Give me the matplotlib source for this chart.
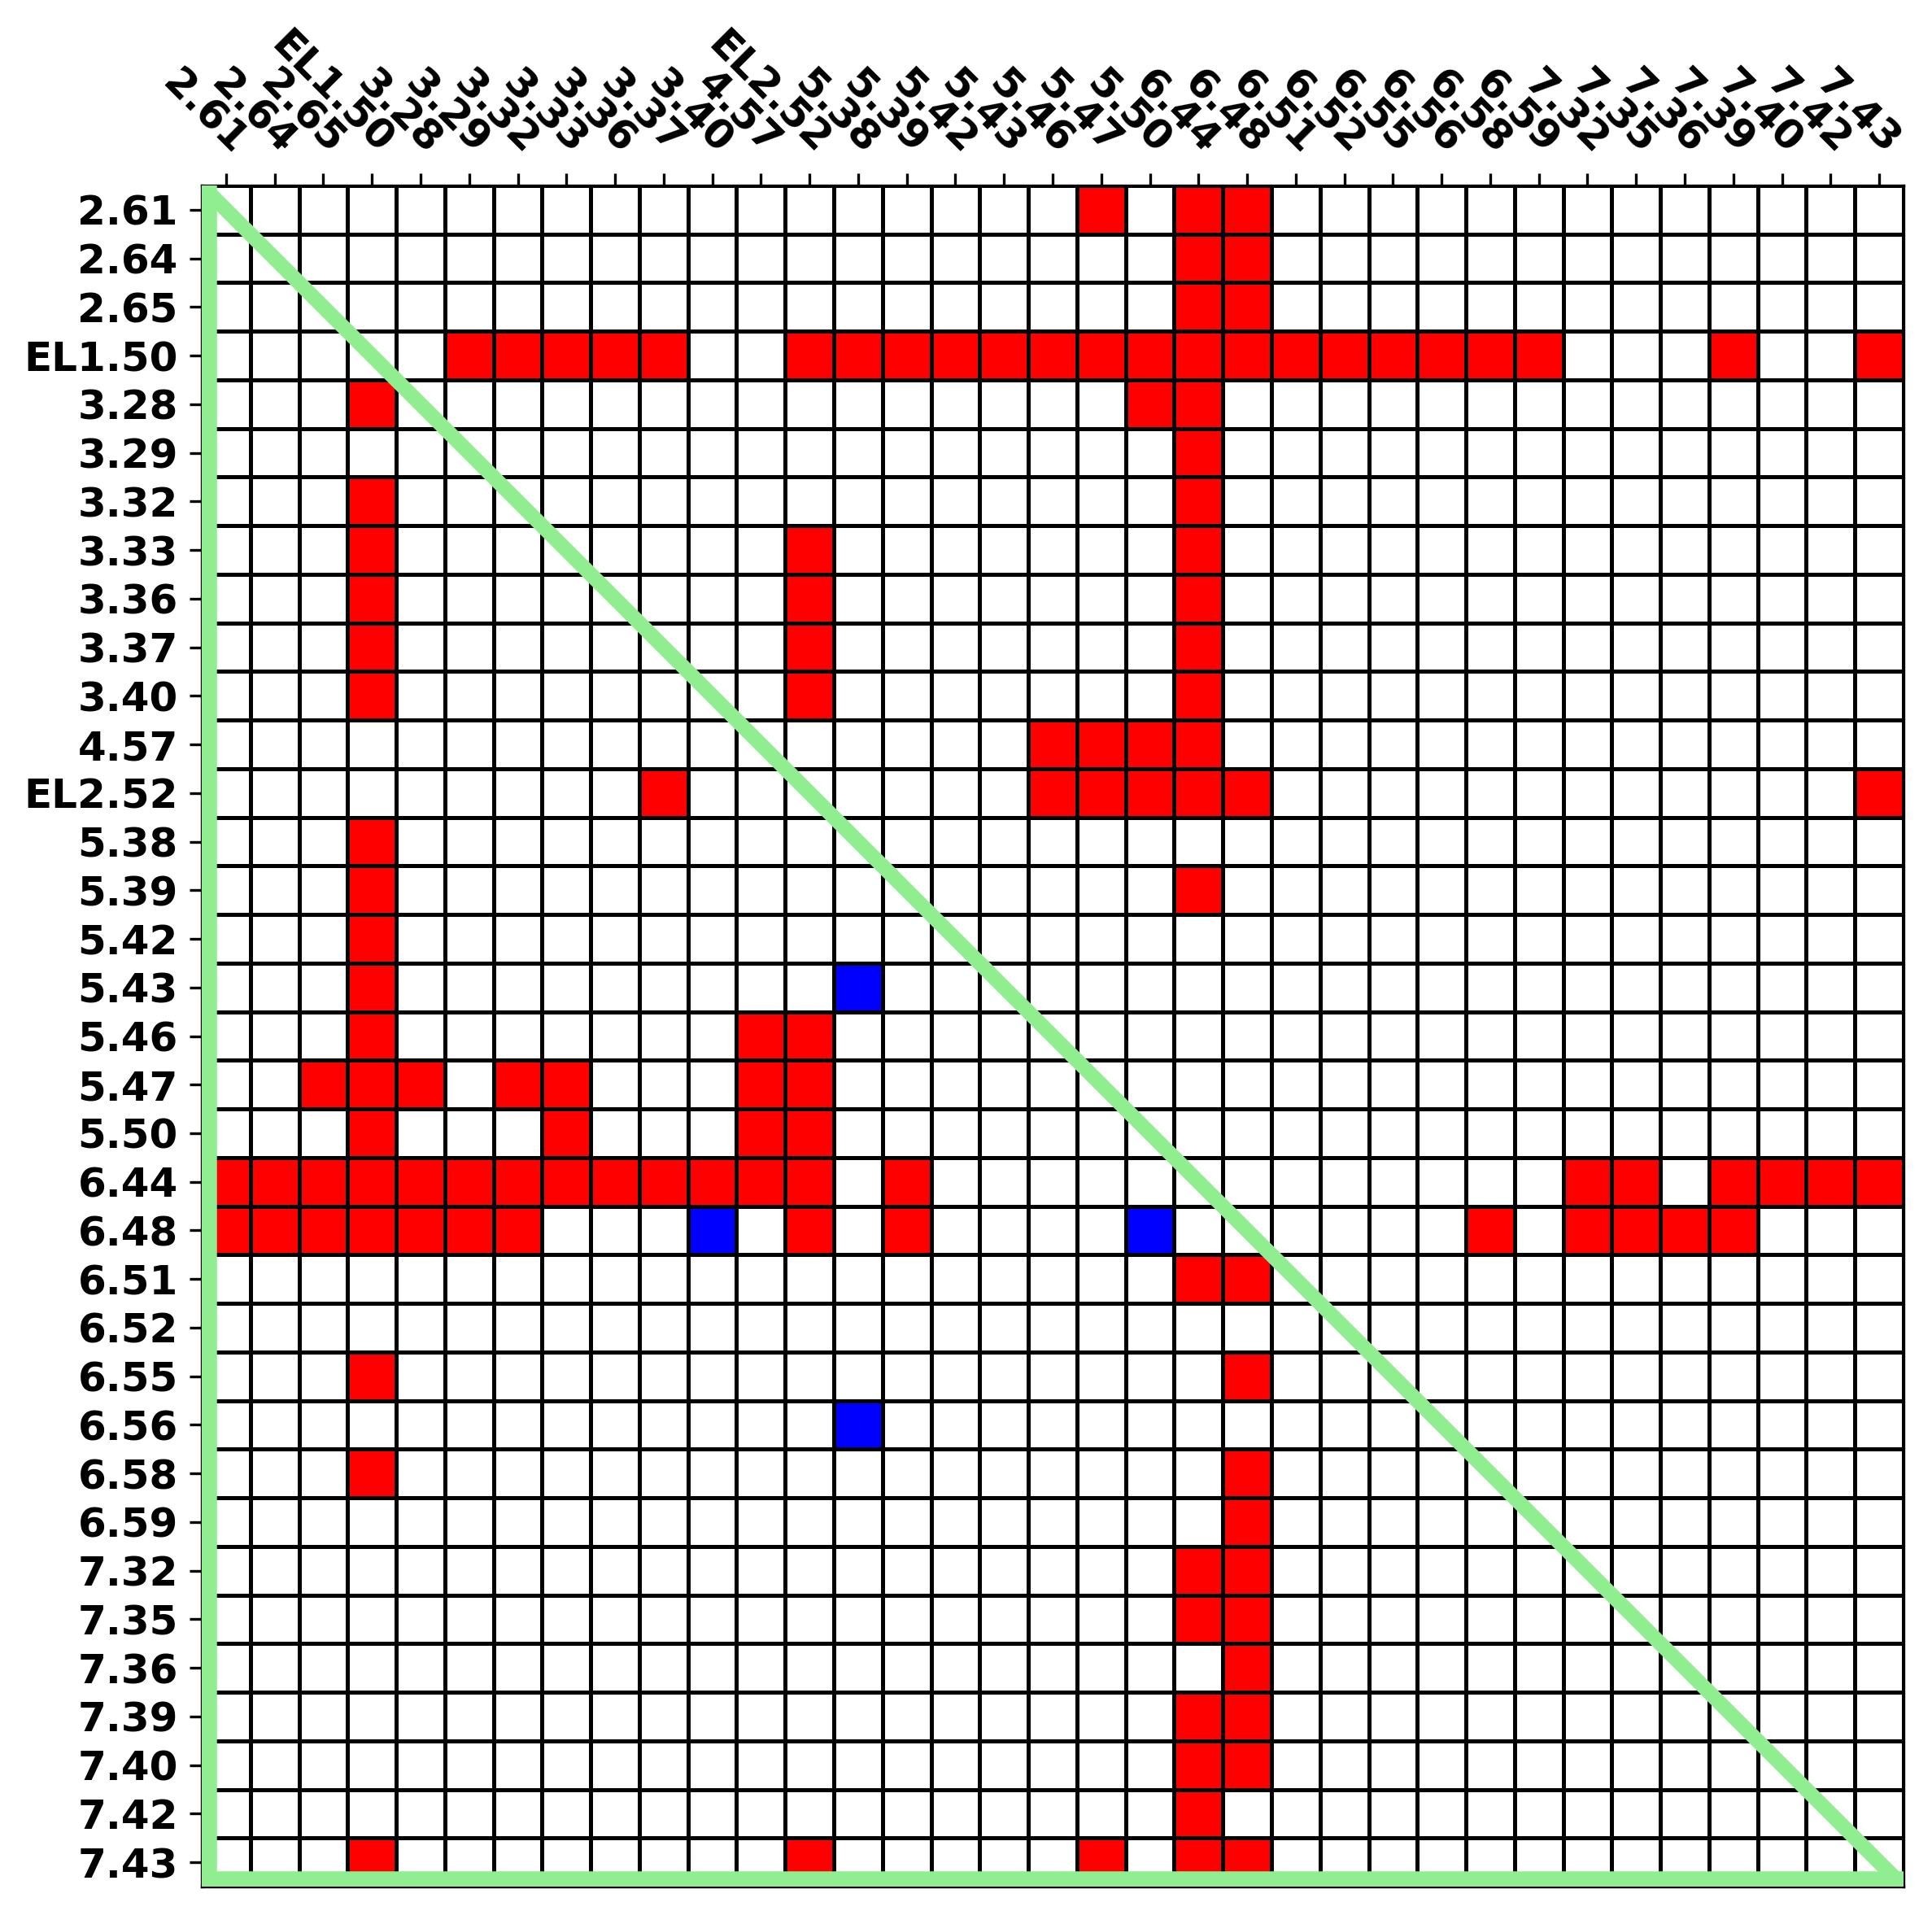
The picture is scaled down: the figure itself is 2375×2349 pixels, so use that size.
import numpy as np
import matplotlib
matplotlib.use("Agg")
import matplotlib.pyplot as plt
from matplotlib.colors import ListedColormap

labels = ["2.61", "2.64", "2.65", "EL1.50", "3.28", "3.29", "3.32", "3.33",
          "3.36", "3.37", "3.40", "4.57", "EL2.52", "5.38", "5.39", "5.42",
          "5.43", "5.46", "5.47", "5.50", "6.44", "6.48", "6.51", "6.52",
          "6.55", "6.56", "6.58", "6.59", "7.32", "7.35", "7.36", "7.39",
          "7.40", "7.42", "7.43"]

# red cells: for every row (same order as labels) the column indices
red_cols = [
    [18, 20, 21],
    [20, 21],
    [20, 21],
    [5, 6, 7, 8, 9, 12, 13, 14, 15, 16, 17, 18, 19, 20, 21, 22, 23, 24, 25, 26, 27, 31, 34],
    [3, 19, 20],
    [20],
    [3, 20],
    [3, 12, 20],
    [3, 12, 20],
    [3, 12, 20],
    [3, 12, 20],
    [17, 18, 19, 20],
    [9, 17, 18, 19, 20, 21, 34],
    [3],
    [3, 20],
    [3],
    [3],
    [3, 11, 12],
    [2, 3, 4, 6, 7, 11, 12],
    [3, 7, 11, 12],
    [0, 1, 2, 3, 4, 5, 6, 7, 8, 9, 10, 11, 12, 14, 28, 29, 31, 32, 33, 34],
    [0, 1, 2, 3, 4, 5, 6, 12, 14, 26, 28, 29, 30, 31],
    [20, 21],
    [],
    [3, 21],
    [],
    [3, 21],
    [21],
    [20, 21],
    [20, 21],
    [21],
    [20, 21],
    [20, 21],
    [20],
    [3, 12, 18, 20, 21],
]

# blue cells: (row label, column label)
blue_cells = [("5.43", "5.38"), ("6.48", "3.40"), ("6.48", "5.50"), ("6.56", "5.38")]

n = len(labels)
mat = np.zeros((n, n))
for r, cols in enumerate(red_cols):
    for c in cols:
        mat[r, c] = 1
for rl, cl in blue_cells:
    mat[labels.index(rl), labels.index(cl)] = 2

W, H, DPI = 2375, 2349, 300
fig = plt.figure(figsize=(W / DPI, H / DPI), dpi=DPI)
ax = fig.add_axes([248 / W, (H - 2319) / H, 2092 / W, 2091 / H])

cmap = ListedColormap(["white", "red", "blue"])
ax.pcolormesh(np.arange(n + 1), np.arange(n + 1), mat, cmap=cmap, vmin=0, vmax=2,
              edgecolors="black", linewidth=0.75)
ax.set_xlim(0, n)
ax.set_ylim(n, 0)

# green triangle: left/bottom edges half clipped by the axes, diagonal corner to corner
ax.plot([0, 0, n], [0, n, n], color="lightgreen", lw=9.0, solid_joinstyle="miter", zorder=5)
ax.plot([0, n], [0, n], color="lightgreen", lw=4.4, solid_capstyle="butt", zorder=5)

ax.xaxis.tick_top()
ax.set_xticks(np.arange(n) + 0.5)
ax.set_yticks(np.arange(n) + 0.5)
ax.set_xticklabels(labels, fontsize=12, fontweight="bold", rotation=-45,
                   ha="right", rotation_mode="anchor")
ax.set_yticklabels(labels, fontsize=12, fontweight="bold")
ax.tick_params(axis="both", length=3.5, width=0.8)

fig.savefig("out.png", dpi=DPI)
